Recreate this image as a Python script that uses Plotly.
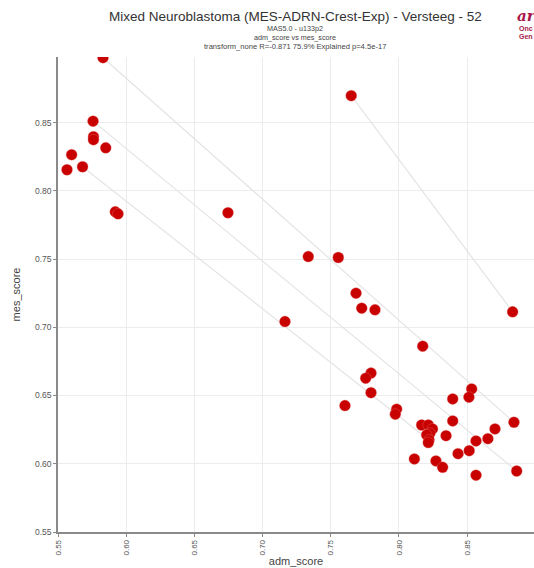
import plotly.graph_objects as go

adm_score = [0.583, 0.5757, 0.576, 0.576, 0.585, 0.560, 0.5566, 0.568, 0.592, 0.594,
             0.6746, 0.765, 0.7335, 0.7555, 0.7685, 0.7727, 0.7824, 0.7164, 0.8833, 0.8174,
             0.7795, 0.7756, 0.7795, 0.7604, 0.7983, 0.7973, 0.8533, 0.8513, 0.8394, 0.8394,
             0.8843, 0.8704, 0.8652, 0.8565, 0.8515, 0.8433, 0.8345, 0.8166, 0.8215, 0.8246,
             0.8227, 0.8203, 0.822, 0.8215, 0.8113, 0.8271, 0.832, 0.8565, 0.8863]
mes_score = [0.8975, 0.851, 0.8396, 0.8374, 0.8315, 0.8264, 0.8154, 0.8176, 0.7846, 0.7831,
             0.7839, 0.8697, 0.7518, 0.7511, 0.725, 0.714, 0.7128, 0.7042, 0.7113, 0.6861,
             0.6664, 0.6627, 0.6521, 0.6426, 0.640, 0.6363, 0.6548, 0.6488, 0.6475, 0.6314,
             0.6304, 0.6255, 0.6184, 0.6167, 0.6096, 0.6074, 0.6206, 0.6284, 0.6284, 0.6255,
             0.6223, 0.6211, 0.6174, 0.6155, 0.6035, 0.6021, 0.5974, 0.5916, 0.5947]
# pairs of samples connected by a line (indices into the lists above)
pair_from = [0, 1, 7, 11]
pair_to = [30, 48, 42, 18]

x_ticks = [0.55, 0.60, 0.65, 0.70, 0.75, 0.80, 0.85]
y_ticks = [0.55, 0.60, 0.65, 0.70, 0.75, 0.80, 0.85]

fig = go.Figure()
for a, b in zip(pair_from, pair_to):
    fig.add_trace(go.Scatter(x=[adm_score[a], adm_score[b]], y=[mes_score[a], mes_score[b]],
                             mode="lines", line=dict(color="#e4e4e4", width=1.2),
                             hoverinfo="skip", showlegend=False))
fig.add_trace(go.Scatter(x=adm_score, y=mes_score, mode="markers",
                         marker=dict(color="#c80000", size=11, line=dict(color="rgba(230,120,120,0.6)", width=0.6)),
                         showlegend=False))

font = "Liberation Sans, Arial, sans-serif"
fig.update_layout(
    width=534, height=568,
    margin=dict(l=58, r=0, t=57, b=36),
    paper_bgcolor="white", plot_bgcolor="white",
    font=dict(family=font, color="#444"),
    xaxis=dict(range=[0.55, 0.899], tickvals=x_ticks, ticktext=[f"{v:.2f}" for v in x_ticks],
               tickangle=-90, tickfont=dict(size=8, color="#555"),
               showgrid=True, gridcolor="#ececec", gridwidth=1,
               showline=True, linecolor="#8a8a8a", linewidth=1.5,
               ticks="outside", ticklen=3, tickcolor="#8a8a8a", zeroline=False,
               title=dict(text="adm_score", font=dict(size=11, color="#444"), standoff=3)),
    yaxis=dict(range=[0.55, 0.898], tickvals=y_ticks, ticktext=[f"{v:.2f}" for v in y_ticks],
               tickfont=dict(size=8.5, color="#555"),
               showgrid=True, gridcolor="#ececec", gridwidth=1,
               showline=True, linecolor="#8a8a8a", linewidth=1.5,
               ticks="outside", ticklen=3, tickcolor="#8a8a8a", zeroline=False,
               title=dict(text="mes_score", font=dict(size=11, color="#444"), standoff=12)),
)

ann = [
    dict(text="Mixed Neuroblastoma (MES-ADRN-Crest-Exp) - Versteeg - 52", x=295, y=17, size=13.5, color="#333"),
    dict(text="MAS5.0 - u133p2", x=295, y=29, size=7.2, color="#444"),
    dict(text="adm_score vs mes_score", x=295, y=37.5, size=7.2, color="#444"),
    dict(text="transform_none R=-0.871 75.9% Explained p=4.5e-17", x=295, y=46, size=7.6, color="#444"),
]
for a in ann:
    fig.add_annotation(text=a["text"], xref="paper", yref="paper",
                       x=(a["x"] - 58) / 476, y=(568 - 36 - a["y"]) / 475,
                       xanchor="center", yanchor="middle", showarrow=False,
                       font=dict(size=a["size"], color=a["color"], family=font))

# logo fragment at the top-right corner
fig.add_annotation(text="<i><b>ar</b></i>", xref="paper", yref="paper",
                   x=(515 - 58) / 476, y=(532 - 16) / 475, xanchor="left", yanchor="middle",
                   showarrow=False, font=dict(size=15, color="#a8194a", family="DejaVu Serif, serif"))
fig.add_annotation(text="<b>Onc</b>", xref="paper", yref="paper",
                   x=(517 - 58) / 476, y=(532 - 29) / 475, xanchor="left", yanchor="middle",
                   showarrow=False, font=dict(size=7, color="#a8194a", family=font))
fig.add_annotation(text="<b>Gen</b>", xref="paper", yref="paper",
                   x=(517 - 58) / 476, y=(532 - 36) / 475, xanchor="left", yanchor="middle",
                   showarrow=False, font=dict(size=7, color="#a8194a", family=font))

fig.write_html("out.html")
